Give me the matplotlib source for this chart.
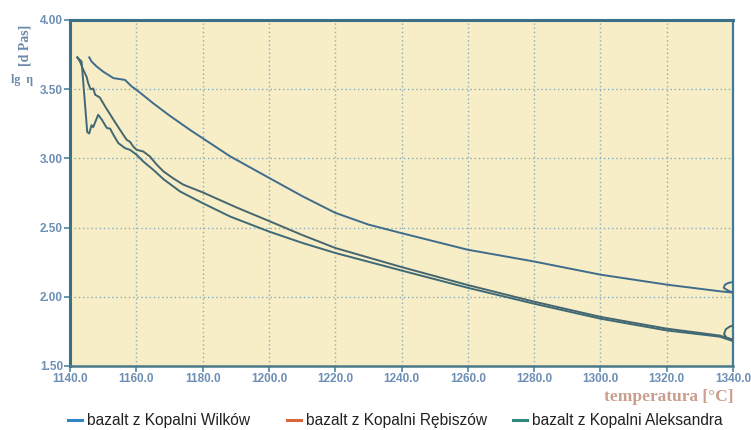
import matplotlib
matplotlib.use("Agg")
import matplotlib.pyplot as plt
from matplotlib.lines import Line2D

# ---- data ----
wilkow_t = [1145.8, 1146.5, 1148.0, 1150.0, 1153.1, 1156.6, 1158.6, 1160.1, 1165.0, 1170.0,
            1176.2, 1180.0, 1188.3, 1200.0, 1210.0, 1220.0, 1230.0, 1240.0, 1260.0, 1280.0,
            1300.0, 1320.0, 1336.0, 1340.0, 1338.5, 1337.2, 1337.6, 1338.8, 1340.0]
wilkow_v = [3.73, 3.70, 3.665, 3.627, 3.58, 3.567, 3.52, 3.495, 3.40, 3.31,
            3.206, 3.146, 3.015, 2.86, 2.728, 2.607, 2.522, 2.46, 2.34, 2.255,
            2.16, 2.088, 2.04, 2.03, 2.045, 2.065, 2.088, 2.102, 2.106]

rebiszow_t = [1142.2, 1143.0, 1144.0, 1145.0, 1145.5, 1146.2, 1147.0, 1147.6, 1149.0, 1150.6,
              1153.1, 1155.1, 1157.1, 1158.1, 1159.1, 1160.1, 1162.1, 1164.1, 1166.2, 1168.2,
              1171.2, 1174.2, 1180.0, 1190.0, 1200.0, 1210.0, 1220.0, 1240.0, 1260.0, 1280.0,
              1300.0, 1320.0, 1336.0, 1340.0, 1338.2, 1337.3, 1337.8, 1339.0, 1340.0]
rebiszow_v = [3.73, 3.70, 3.64, 3.59, 3.543, 3.50, 3.505, 3.46, 3.44, 3.375,
              3.28, 3.206, 3.134, 3.12, 3.085, 3.062, 3.05, 3.014, 2.954, 2.906,
              2.855, 2.81, 2.755, 2.648, 2.548, 2.447, 2.353, 2.215, 2.085, 1.965,
              1.855, 1.77, 1.72, 1.69, 1.70, 1.73, 1.765, 1.785, 1.792]

aleksandra_t = [1142.2, 1143.5, 1144.5, 1145.2, 1145.8, 1146.5, 1147.0, 1148.5, 1149.6, 1151.1,
                1152.1, 1153.1, 1154.6, 1156.6, 1158.1, 1160.1, 1162.1, 1165.1, 1168.2, 1173.2,
                1180.0, 1188.3, 1200.0, 1210.0, 1220.0, 1240.0, 1260.0, 1280.0, 1300.0, 1320.0,
                1336.0, 1340.0]
aleksandra_v = [3.73, 3.70, 3.40, 3.19, 3.18, 3.24, 3.226, 3.315, 3.28, 3.22,
                3.215, 3.17, 3.11, 3.074, 3.062, 3.026, 2.978, 2.918, 2.85, 2.761,
                2.677, 2.58, 2.472, 2.39, 2.317, 2.19, 2.065, 1.95, 1.842, 1.757,
                1.712, 1.68]

x_ticks = [1140, 1160, 1180, 1200, 1220, 1240, 1260, 1280, 1300, 1320, 1340]
y_ticks = [1.50, 2.00, 2.50, 3.00, 3.50, 4.00]
legend_labels = ["bazalt z Kopalni Wilków", "bazalt z Kopalni Rębiszów", "bazalt z Kopalni Aleksandra"]
legend_colors = ["#2f86c3", "#d8663f", "#2e8a7c"]

# ---- figure ----
fig = plt.figure(figsize=(7.51, 4.30), dpi=100)
fig.patch.set_facecolor("white")
ax = fig.add_axes([70/751, 1-366/430, (733-70)/751, (366-20)/430])
ax.set_facecolor("#f7edc6")

ax.plot(wilkow_t, wilkow_v, color="#3f6c8c", lw=1.4, zorder=3)
ax.plot(rebiszow_t, rebiszow_v, color="#46666f", lw=1.4, zorder=3)
ax.plot(aleksandra_t, aleksandra_v, color="#3d6a76", lw=1.4, zorder=3)

ax.set_xlim(1140, 1340)
ax.set_ylim(1.5, 4.0)
ax.set_xticks(x_ticks)
ax.set_yticks(y_ticks)
ax.set_xticklabels([f"{t:.1f}" for t in x_ticks])
ax.set_yticklabels([f"{v:.2f}" for v in y_ticks])

ax.grid(True, color="#86b0c4", linestyle=(0, (1, 2)), linewidth=1.0, zorder=1)
ax.set_axisbelow(True)

tick_col = "#6d8fb5"
for lab in ax.get_xticklabels() + ax.get_yticklabels():
    lab.set_fontfamily("Liberation Sans")
    lab.set_fontweight("bold")
    lab.set_fontsize(8.5)
    lab.set_color(tick_col)
ax.tick_params(axis="both", direction="out", length=4, width=1.2, color="#4f86a0", pad=1)

for side in ["left", "top"]:
    ax.spines[side].set_color("#3a7088")
    ax.spines[side].set_linewidth(2.2)
ax.spines["right"].set_color("#3f7c99")
ax.spines["right"].set_linewidth(1.6)
ax.spines["bottom"].set_color("#4a7a8a")
ax.spines["bottom"].set_linewidth(1.8)

# axis labels
fig.text(733/751, 1-397/430, "temperatura [°C]", ha="right", va="center",
         family="Liberation Serif", fontweight="bold", fontsize=12.5, color="#c99e8e")
fig.text(25/751, 1-45/430, "[d Pas]", rotation=90, ha="center", va="center",
         family="Liberation Serif", fontweight="bold", fontsize=10, color="#6a88a8")
fig.text(22/751, 1-80/430, "lg  η", ha="center", va="center",
         family="Liberation Serif", fontweight="bold", fontsize=8.5, color="#6a88a8")

# legend
ly = 1 - 420/430
starts = [68, 287, 513]
for x0, lab, col in zip(starts, legend_labels, legend_colors):
    fig.add_artist(Line2D([x0/751, (x0+14)/751], [ly, ly], transform=fig.transFigure,
                          color=col, lw=2.2))
    fig.text((x0+19)/751, ly, lab, ha="left", va="center", family="Liberation Sans",
             fontsize=11.2, color="#222222")

fig.savefig("out.png", dpi=100)
